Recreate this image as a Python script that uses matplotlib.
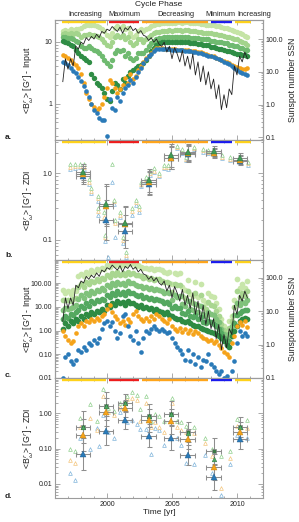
import numpy as np
import matplotlib
matplotlib.use('Agg')
import matplotlib.pyplot as plt
from matplotlib.transforms import blended_transform_factory
from matplotlib.ticker import FixedLocator, FixedFormatter, LogLocator, NullFormatter, MultipleLocator

plt.rcParams['font.family'] = ['Liberation Sans', 'DejaVu Sans']

nan = np.nan

# ---------------- time grid of the input maps ----------------
t_in = [1996.6, 1996.8, 1997.0, 1997.2, 1997.4, 1997.6, 1997.8,
        1998.0, 1998.2, 1998.4, 1998.6, 1998.8, 1999.0, 1999.2, 1999.4, 1999.6, 1999.8,
        2000.0, 2000.2, 2000.4, 2000.6, 2000.8, 2001.0, 2001.2, 2001.4, 2001.6, 2001.8,
        2002.0, 2002.2, 2002.4, 2002.6, 2002.8,
        2003.0, 2003.2, 2003.4, 2003.6, 2003.8,
        2004.0, 2004.2, 2004.4, 2004.6, 2004.8, 2005.0, 2005.2, 2005.4, 2005.6, 2005.8,
        2006.0, 2006.2, 2006.4, 2006.6, 2006.8, 2007.0, 2007.2, 2007.4, 2007.6, 2007.8,
        2008.0, 2008.2, 2008.4, 2008.6, 2008.8, 2009.0, 2009.2, 2009.4, 2009.6, 2009.8,
        2010.0, 2010.2, 2010.4, 2010.6, 2010.8]

# ---------------- panel a: <B> input ----------------
a_green1 = [15, 15.5, 15, 16, 15.5, 16, 16,
            17, 18, 18.5, 19, 18.5, 19, 18, 17.5, 16, 15,
            13, 12, 14, 17, 18, 17, 18, 16, 17, 14, 12, 13, 15, 16, 15,
            16, 17, 18, 19, 19.5,
            19.5, 20, 20, 20.5, 20.5, 20, 20.5, 21, 21, 20.5, 21, 21, 20.5, 20.5, 20, 20, 19.5, 19.5, 19, 19,
            19, 18.5, 18, 18, 17.5, 17, 16.5, 16, 15.5, 15, 14.5, 14, 13.5, 12.5, 12]
a_green2 = [13.5, 14, 13.5, 14, 13.5, 14, 13.5,
            12, 13, 13, 13.5, 13, 13, 12.5, 12, 11, 10,
            9, 8.5, 10, 12, 13, 12, 13, 11, 12, 10, 9, 9.5, 11, 11, 10,
            11, 12, 13, 14, 14.5,
            14.5, 15, 15, 15, 15.5, 15, 15.5, 15.5, 15.5, 15, 15.5, 15.5, 15, 15, 15, 14.5, 14.5, 14, 14, 14,
            14, 13.5, 13.5, 13, 13, 12.5, 12, 12, 11.5, 11, 11, 10.5, 10, 9.5, 9]
a_green3 = [12, 12, 11.5, 11.5, 11, 10.5, 10,
            8.5, 8, 8, 8.5, 8, 7.5, 7, 6.5, 6, 5,
            4.5, 4, 5, 6.5, 7.5, 7, 7.5, 6, 6.5, 5.5, 5, 5.5, 6.5, 6.5, 6.5,
            7.5, 8.5, 9.5, 10.5, 11,
            11.5, 11.5, 12, 12, 12, 12, 12, 12, 12, 12, 12, 12, 11.5, 11.5, 11.5, 11.5, 11, 11, 11, 11,
            10.5, 10.5, 10, 10, 10, 9.5, 9.5, 9, 9, 8.5, 8.5, 8, 8, 7.5, 7.5]
a_green4 = [10.5, 10, 9.5, 9, 8.5, 7.5, 6.5,
            6, 5.5, 5, 4.8, 3, 2.6, 2.2, 2, 1.8, 1.5,
            1.2, 1.1, 1.6, 2.2, 2, 1.7, 2.5, 2.2, 2.8, 3.2, 3.5, 3.8, 4, 4.2, 4.5,
            5, 6, 7, 8, 9,
            9.5, 9.8, 10, 10, 10, 10, 10, 10, 10, 9.8, 9.8, 9.8, 9.5, 9.5, 9.5, 9.3, 9.2, 9, 9, 8.8,
            8.4, 8.2, 8, 7.8, 7.6, 7.4, 7.2, 7, 6.8, 6.6, 6.4, 6.3, 6.2, 6.1, 6.0]
a_orange = [6.2, 5.8, 5.5, 5, 4.6, 4.2, 3.8,
            3.0, 2.2, 1.5, 1.2, 1.0, 0.9, 0.8, 0.85, 1.0, 1.3,
            1.8, 2.4, 2.2, 1.8, 1.5, 1.7, 2.0, 2.6, 2.2, 3.0, 2.5, 2.8, 3.5, 4.0, 4.8,
            5.5, 6.0, 6.5, 7.5, 8.0,
            8.0, 8.0, 7.8, 7.8, 7.8, 7.6, 7.6, 7.5, 7.5, 7.4, 7.4, 7.3, 7.2, 7.1, 7.0, 6.9, 6.8, 6.6, 6.4, 6.2,
            6.0, 5.8, 5.5, 5.3, 5.1, 4.9, 4.7, 4.5, 4.3, 4.1, 3.9, 3.8, 3.7, 3.7, 3.8]
a_blue = [4.7, 4.5, 4.2, 3.8, 3.4, 3.1, 2.7,
          2.3, 1.9, 1.6, 1.3, 1.0, 0.8, 0.7, 0.6, 0.55, 0.55,
          0.3, 1.2, 0.85, 0.8, 1.3, 1.1, 1.5, 1.8, 2.0, 2.4, 2.2, 2.7, 3.2, 3.8, 4.5,
          5.3, 5.8, 6.3, 7.2, 7.8,
          7.8, 7.8, 7.6, 7.6, 7.6, 7.5, 7.4, 7.4, 7.3, 7.3, 7.2, 7.1, 7.0, 6.9, 6.8, 6.7, 6.6, 6.4, 6.2, 6.0,
          5.8, 5.6, 5.4, 5.2, 5.0, 4.8, 4.6, 4.4, 4.1, 3.8, 3.5, 3.3, 3.1, 3.0, 2.9]

# sunspot number
ssn = [5, 25, 12, 25, 15, 60, 50,
       80, 70, 110, 90, 120, 100, 140, 110, 170, 150,
       200, 180, 240, 200, 170, 230, 150, 220, 190, 250, 180, 210, 150, 180, 130,
       120, 90, 110, 80, 100,
       70, 60, 80, 40, 60, 25, 55, 35, 20, 45, 15, 30, 12, 35, 8, 20, 5, 15, 4, 10,
       3, 6, 1.5, 4, 0.7, 2, 0.8, 3, 2, 15, 8, 30, 20, 40, 25]

# ---------------- panel c: <B^2> input ----------------
c_green1 = [50, 40, 45, 35, 50, 45, 200,
            250, 200, 300, 250, 350, 300, 400, 350, 450, 400,
            600, 500, 700, 600, 750, 550, 700, 600, 800, 650, 700, 550, 600, 500, 450,
            450, 400, 450, 350, 400,
            400, 350, 300, 280, 300, 90, 280, 250, 260, 70, 50, 130, 35, 30, 110, 25, 90, 20, 15, 40,
            30, 25, 15, 8, 3, 1.5, 1.0, 2.5, 4, 20, 150, 60, 90, 60, 120]
c_green2 = [20, 19, 19, 18, 22, 23, 67,
            89, 70, 108, 89, 127, 108, 145, 127, 164, 145,
            226, 188, 268, 226, 295, 220, 272, 226, 310, 253, 263, 211, 216, 197, 169,
            174, 150, 169, 132, 150,
            145, 127, 108, 107, 105, 41, 94, 83, 85, 30, 23, 48, 17, 15, 38, 12, 31, 10, 7.8, 16,
            12.5, 10.6, 6.9, 4.2, 1.9, 1.04, 0.71, 1.33, 2.5, 9.5, 47, 27, 38, 30, 48]
c_green3 = [7.7, 8.9, 8.2, 9.4, 10, 11.6, 22,
            32, 24, 39, 32, 46, 39, 53, 46, 60, 53,
            85, 71, 103, 85, 116, 88, 106, 85, 120, 99, 99, 81, 77, 77, 64,
            67, 57, 64, 50, 57,
            53, 46, 39, 41, 37, 19, 31, 27, 28, 13, 10.5, 18, 8.4, 7.3, 13, 6.1, 11, 4.9, 4.1, 6.3,
            5.2, 4.5, 3.2, 2.2, 1.2, 0.72, 0.5, 0.71, 1.55, 4.5, 15, 12, 16, 14.5, 19]
c_green4 = [3.0, 4.2, 3.5, 4.8, 4.5, 5.9, 7.5,
            11, 8.6, 14, 11, 17, 14, 19, 17, 22, 19,
            32, 27, 39, 32, 46, 35, 41, 32, 47, 39, 37, 31, 28, 31, 24,
            26, 21, 24, 19, 21,
            19, 17, 14, 16, 13, 8.7, 10.5, 9.1, 9.1, 5.7, 4.8, 6.7, 4.1, 3.6, 4.6, 3.0, 3.7, 2.4, 2.1, 2.5,
            2.2, 1.9, 1.5, 1.15, 0.78, 0.5, 0.35, 0.38, 0.96, 2.1, 4.7, 5.5, 7, 7.1, 7.5]
c_green5 = [1.2, 2, 1.5, 2.5, 2, 3, 2.5,
            4, 3, 5, 4, 6, 5, 7, 6, 8, 7,
            12, 10, 15, 12, 18, 14, 16, 12, 18, 15, 14, 12, 10, 12, 9,
            10, 8, 9, 7, 8,
            7, 6, 5, 6, 4.5, 4, 3.5, 3, 3, 2.5, 2.2, 2.5, 2, 1.8, 1.6, 1.5, 1.3, 1.2, 1.1, 1.0,
            0.9, 0.8, 0.7, 0.6, 0.5, 0.35, 0.25, 0.2, 0.6, 1.0, 1.5, 2.5, 3, 3.5, 3]
c_orange = [1.0, 0.6, 0.4, 0.3, 0.35, 0.8, 1.5,
            2.0, 1.5, 2.5, 2.2, 3, 2.5, 3.5, 2.8, 4, 5,
            8, 12, 6, 4, 3, 2, 2.5, 1.8, 3, 2.2, 5, 7, 4, 3, 2.5,
            3.5, 2.5, 4, 3, 5,
            4, 3, 2.5, 2, 3, 1.5, 1.2, 1, 1.3, 0.9, 1.2, 0.8, 1.1, 0.7, 1, 0.8, 0.6, 0.5, 0.45, 0.35,
            0.4, 0.3, 0.35, 0.25, 0.18, 0.12, 0.1, 0.08, 0.3, 0.6, 1.5, 2.2, 1.8, 2.5, 1.4]
c_blue = [0.01, 0.08, 0.1, 0.05, 0.04, 0.06, 0.15,
          0.12, 0.2, 0.15, 0.3, 0.25, 0.4, 0.3, 0.5, 1.2, 2.0,
          2.5, 1.5, 2.2, 1.0, 0.5, 0.8, 4.0, 5.0, 1.5, 0.6, 0.4, 1.0, 0.3, 0.12, 0.5,
          1.0, 0.8, 1.2, 1.5, 1.2,
          1.0, 1.2, 1.0, 0.8, 0.9, 0.5, 0.3, 0.2, 0.15, 0.1, 0.06, 0.15, 0.05, 0.1, 0.04, 0.08, 0.03, 0.06, 0.05, 0.1,
          0.04, 0.03, 0.02, 0.015, 0.02, 0.01, 0.012, 0.008, 0.02, 0.05, 0.3, 1.0, 0.6, 0.8, 0.6]

# ---------------- ZDI epochs ----------------
t_zdi = [1998.15, 1999.9, 2001.4, 2003.2, 2004.9, 2006.2, 2008.2, 2010.25]
t_zdi_err = [0.55, 0.55, 0.55, 0.55, 0.55, 0.55, 0.55, 0.55]

b_green = [1.05, 0.35, 0.18, 0.78, 1.85, 2.08, 2.15, 1.72]
b_orange = [0.99, 0.32, 0.175, 0.73, 1.72, 2.0, 2.05, 1.6]
b_blue = [0.90, 0.20, 0.135, 0.70, 1.70, 1.95, 2.0, 1.55]
b_dex = [0.12, 0.3, 0.25, 0.17, 0.17, 0.12, 0.07, 0.07]

d_dark = [0.42, 1.65, 2.0, 0.86, 0.97, 0.30, 0.083, 0.42]
d_green = [0.40, 1.6, 1.9, 0.84, 0.95, 0.28, 0.05, 0.40]
d_orange = [0.245, 1.07, 1.38, 0.64, 0.60, 0.19, 0.03, 0.305]
d_blue = [0.070, 0.325, 0.65, 0.235, 0.206, 0.067, 0.0155, 0.19]
d_dex = [0.45, 0.4, 0.25, 0.33, 0.35, 0.28, 0.37, 0.28]

# individual ZDI maps (open triangles)
ob_t = [1997.15, 1997.54, 1997.92, 1998.26, 1998.64, 1998.77, 1999.28, 1999.33, 1999.8, 1999.85,
        2000.5, 2000.6, 2001.0, 2001.26, 2001.46, 2001.95, 2002.23, 2002.46, 2002.6, 2002.97,
        2003.3, 2003.6, 2004.0, 2004.38, 2004.72, 2005.36, 2005.74, 2006.08, 2006.72, 2007.41,
        2007.74, 2008.82, 2009.46, 2010.82, 2000.36, 2000.1]
ob_green = [1.36, 1.36, 1.4, 1.36, 0.82, 0.6, 0.3, 0.45, 0.26, 0.12,
            0.4, 0.2, 0.26, 0.11, 0.065, 0.3, 0.4, 0.32, 0.75, 0.87,
            1.1, 1.2, 1.0, 1.35, 1.35, 2.6, 2.3, 1.75, 2.5, 2.3,
            2.2, 1.85, 1.75, 1.5, 1.4, nan]
ob_orange = [1.25, 1.28, 1.3, 1.25, 0.75, 0.55, 0.27, 0.42, 0.22, 0.11,
             0.38, 0.18, 0.24, 0.1, 0.06, 0.27, 0.37, 0.29, 0.7, 0.82,
             1.0, 1.1, 0.94, 1.25, 1.25, 2.5, 2.1, 1.65, 2.4, 2.2,
             2.1, 1.75, 1.65, 1.45, nan, nan]
ob_blue = [1.15, 1.2, 1.25, 1.15, 0.7, 0.5, 0.24, 0.38, 0.2, 0.095,
           0.35, 0.11, 0.22, 0.09, 0.055, 0.24, 0.34, 0.26, 0.65, 0.77,
           0.95, 1.05, 0.9, 1.2, 1.15, 2.4, 2.0, 1.6, 2.3, 2.1,
           2.0, 1.7, 1.6, 1.35, 0.75, 0.056]

od_t = [1997.15, 1997.54, 1997.95, 1998.7, 1999.25, 1999.35, 1999.7, 2000.1, 2000.5, 2001.0,
        2001.5, 2001.9, 2002.3, 2002.5, 2003.0, 2003.36, 2003.7, 2004.0, 2004.4, 2004.97,
        2005.36, 2005.7, 2006.1, 2006.7, 2007.5, 2008.1, 2008.8, 2009.45, 2010.0, 2010.8]
od_green = [0.095, 0.085, 0.75, 1.8, 0.6, nan, 5.0, 1.4, 1.2, 2.0,
            3.1, 4.0, 3.3, 1.3, 3.1, 0.6, 0.95, 0.85, 0.6, 2.8,
            0.6, 0.55, 0.45, 0.4, 0.2, 0.1, 0.06, 0.085, 0.7, 0.65]
od_orange = [0.048, 0.039, 0.4, 0.75, 0.33, nan, 3.0, 1.1, 0.9, 1.5,
             2.6, 2.8, 2.4, 0.6, 1.9, 0.4, 0.55, 0.4, 0.3, 2.0,
             0.42, 0.33, 0.3, 0.28, 0.14, 0.06, 0.0076, 0.054, 0.45, 0.38]
od_blue = [0.02, 0.013, 0.2, 0.1, 0.38, 0.12, 0.9, 0.3, 0.2, 1.1,
           0.55, 0.65, 0.5, 0.35, 0.35, 0.07, 0.38, 0.33, 0.13, nan,
           0.2, 0.13, 0.039, 0.037, 0.065, 0.02, 0.005, 0.036, 0.25, 0.2]

# ---------------- cycle phases ----------------
phase_names = ['Increasing', 'Maximum', 'Decreasing', 'Minimum', 'Increasing']
phase_start = [1996.55, 2000.15, 2002.7, 2008.0, 2009.85]
phase_end = [1999.95, 2002.45, 2007.75, 2009.65, 2011.05]
phase_label_x = [1998.3, 2001.3, 2005.3, 2008.7, 2011.3]
phase_colors = ['#ffd21a', '#ee1c1c', '#ffa51a', '#1a1aee', '#ffd21a']

# ---------------- colours ----------------
C_BLUE = '#2a7ab8'
C_ORANGE = '#f5a31a'
greens_a = ['#c5e4a6', '#a3d48c', '#6fba70', '#2f8d45']
greens_c = ['#c8e6aa', '#a9d690', '#80c27b', '#54a860', '#2e8b43']
SP = '#9c9c9c'

fig = plt.figure(figsize=(2.99, 5.22), dpi=100)
L, WD = 55 / 299, 208 / 299


def fa(top, bot):
    return [L, 1 - bot / 522, WD, (bot - top) / 522]


ax_a = fig.add_axes(fa(20, 140))
ax_b = fig.add_axes(fa(140, 260))
ax_c = fig.add_axes(fa(260, 378))
ax_d = fig.add_axes(fa(378, 498))


def style(ax, ylim, yt, ytl, right=True, xlabels=False, xaxis=True):
    ax.set_yscale('log')
    ax.set_ylim(*ylim)
    ax.yaxis.set_major_locator(FixedLocator(yt))
    ax.yaxis.set_major_formatter(FixedFormatter(ytl))
    ax.yaxis.set_minor_locator(LogLocator(base=10, subs=np.arange(2, 10), numticks=30))
    ax.yaxis.set_minor_formatter(NullFormatter())
    if xaxis:
        ax.set_xlim(1996, 2012)
        ax.xaxis.set_major_locator(FixedLocator([2000, 2005, 2010]))
        ax.xaxis.set_minor_locator(MultipleLocator(1))
    for s in ax.spines.values():
        s.set_color(SP)
        s.set_linewidth(0.8)
    ax.tick_params(which='both', direction='in', color=SP, top=True, right=right,
                   labelsize=5, labelcolor='#222222', width=0.6, pad=2)
    ax.tick_params(which='major', length=3.5)
    ax.tick_params(which='minor', length=1.8)
    if not xlabels:
        ax.tick_params(labelbottom=False)


style(ax_a, (0.26, 22.5), [1, 10], ['1', '10'], right=False)
style(ax_b, (0.05, 3.16), [0.1, 1.0], ['0.1', '1.0'])
style(ax_c, (0.01, 950), [0.01, 0.1, 1, 10, 100], ['0.01', '0.10', '1.00', '10.00', '100.00'], right=False)
style(ax_d, (0.004, 10), [0.01, 0.1, 1], ['0.01', '0.10', '1.00'], xlabels=True)

ax_a2 = ax_a.twinx()
ax_c2 = ax_c.twinx()
style(ax_a2, (0.083, 380), [0.1, 1, 10, 100], ['0.1', '1.0', '10.0', '100.0'], xaxis=False)
style(ax_c2, (0.1, 340), [0.1, 1, 10, 100], ['0.1', '1.0', '10.0', '100.0'], xaxis=False)
for ax2 in (ax_a2, ax_c2):
    ax2.tick_params(which='both', left=False, top=False, labelleft=False, labelright=True)

# ---------------- panel a ----------------
for vals, col in zip([a_green1, a_green2, a_green3, a_green4], greens_a):
    ax_a.scatter(t_in, vals, s=15, color=col, lw=0, zorder=2)
ax_a.scatter(t_in, a_orange, s=11, color=C_ORANGE, lw=0, zorder=3)
ax_a.scatter(t_in, a_blue, s=11, color=C_BLUE, lw=0, zorder=3)
ax_a2.plot(t_in, ssn, color='#222222', lw=0.6)

# ---------------- panel c ----------------
for vals, col in zip([c_green1, c_green2, c_green3, c_green4, c_green5], greens_c):
    ax_c.scatter(t_in, vals, s=17, color=col, lw=0, zorder=2)
ax_c.scatter(t_in, c_orange, s=11, color=C_ORANGE, lw=0, zorder=3)
ax_c.scatter(t_in, c_blue, s=11, color=C_BLUE, lw=0, zorder=3)
ax_c2.plot(t_in, ssn, color='#222222', lw=0.6)


# ---------------- ZDI panels ----------------
def open_tri(ax, t, g, o, b):
    ax.scatter(t, b, marker='^', s=7, facecolors='white', edgecolors='#7db3da', linewidths=0.5, zorder=2)
    ax.scatter(t, o, marker='^', s=7, facecolors='white', edgecolors='#f3c479', linewidths=0.5, zorder=2)
    ax.scatter(t, g, marker='^', s=7, facecolors='white', edgecolors='#8fcf8c', linewidths=0.5, zorder=2)


def err(ax, vals, dex):
    v = np.array(vals)
    f = 10 ** np.array(dex)
    ax.errorbar(t_zdi, v, yerr=[v - v / f, v * f - v], xerr=t_zdi_err, fmt='none',
                ecolor='#8e8e8e', elinewidth=0.75, capsize=1.8, capthick=0.75, zorder=3)


open_tri(ax_b, ob_t, ob_green, ob_orange, ob_blue)
for vals in (b_blue, b_orange, b_green):
    err(ax_b, vals, b_dex)
ax_b.plot(t_zdi, b_blue, '^', ms=3.8, mfc=C_BLUE, mec='#1d5a8a', mew=0.3, zorder=4)
ax_b.plot(t_zdi, b_orange, '^', ms=3.8, mfc=C_ORANGE, mec='#c07f10', mew=0.3, zorder=4)
ax_b.plot(t_zdi, b_green, '^', ms=3.8, mfc='#3f9a55', mec='#2a6e3a', mew=0.3, zorder=4)

open_tri(ax_d, od_t, od_green, od_orange, od_blue)
for vals in (d_blue, d_orange, d_dark):
    err(ax_d, vals, d_dex)
ax_d.plot(t_zdi, d_dark, 's', ms=3.4, mfc='#3b7a45', mec='#8a8a8a', mew=0.5, zorder=4)
ax_d.plot(t_zdi, d_green, '^', ms=3.4, mfc='#4fa862', mec='#2a6e3a', mew=0.3, zorder=4)
ax_d.plot(t_zdi, d_orange, '^', ms=3.8, mfc=C_ORANGE, mec='#c07f10', mew=0.3, zorder=4)
ax_d.plot(t_zdi, d_blue, '^', ms=3.8, mfc=C_BLUE, mec='#1d5a8a', mew=0.3, zorder=4)

# ---------------- phase bars ----------------
for ax in (ax_a, ax_b, ax_c, ax_d):
    tr = blended_transform_factory(ax.transData, ax.transAxes)
    for s, e, c in zip(phase_start, phase_end, phase_colors):
        ax.plot([s, e], [0.982, 0.982], transform=tr, color=c, lw=1.7,
                solid_capstyle='butt', clip_on=False, zorder=6)

tra = blended_transform_factory(ax_a.transData, ax_a.transAxes)
for name, x in zip(phase_names, phase_label_x):
    ax_a.text(x, 1.042, name, transform=tra, ha='center', va='center', fontsize=5.3, color='#222222')
ax_a.text(0.5, 1.125, 'Cycle Phase', transform=ax_a.transAxes, ha='center', va='center',
          fontsize=6, color='#222222')

# ---------------- labels ----------------
ylab_in = '<B$^{r}_{\\omega}$> [G$^{r}$] - Input'
ylab_zdi = '<B$^{r}_{\\omega}$> [G$^{r}$] - ZDI'
for ax, lab in ((ax_a, ylab_in), (ax_b, ylab_zdi), (ax_c, ylab_in), (ax_d, ylab_zdi)):
    ax.set_ylabel(lab, fontsize=6.3, color='#222222')
    ax.yaxis.set_label_coords(-0.09, 0.5)
for ax2 in (ax_a2, ax_c2):
    ax2.set_ylabel('Sunspot number SSN', fontsize=6.3, color='#222222')
    ax2.yaxis.set_label_coords(1.12, 0.5)

ax_d.set_xlabel('Time [yr]', fontsize=6, color='#222222', labelpad=1)

for lab, y in (('a.', 0.7375), ('b.', 0.5096), ('c.', 0.2797), ('d.', 0.0479)):
    fig.text(0.017, y, lab, fontsize=6, fontweight='bold', ha='left', va='center', color='#222222')

fig.savefig('out.png', dpi=100)
